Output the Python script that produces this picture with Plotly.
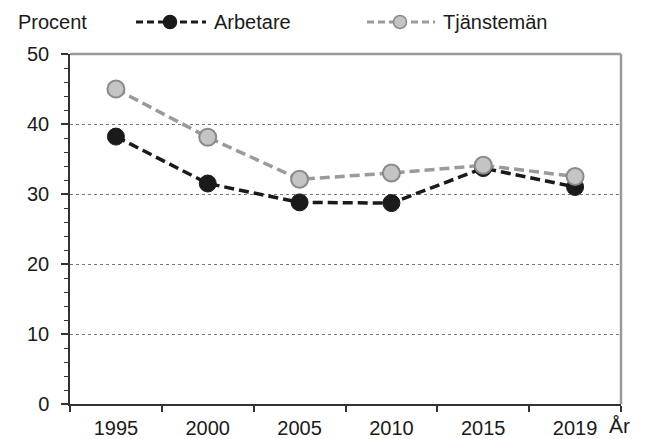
import plotly.graph_objects as go

years = ["1995", "2000", "2005", "2010", "2015", "2019"]
arbetare = [38.2, 31.5, 28.8, 28.7, 33.7, 31.0]
tjansteman = [45.0, 38.1, 32.1, 33.0, 34.1, 32.5]

FONT = "Liberation Sans, Arial, sans-serif"
W, H = 647, 439
OFF = 8  # page body margin
# plot area in screen pixels
SL, SR, ST, SB = 70, 621, 54, 404
ML, MT = SL - OFF, ST - OFF
MR, MB = W - (SR - OFF), H - (SB - OFF)
PW, PH = SR - SL, SB - ST

def px(x):
    return (x - SL) / PW

def py(y):
    return (SB - y) / PH

fig = go.Figure()
fig.add_trace(go.Scatter(
    x=years, y=arbetare, name="Arbetare", mode="lines+markers",
    line=dict(color="#1a1a1a", width=3.5, dash="10px,5px"),
    marker=dict(size=17, color="#1a1a1a", line=dict(color="#1a1a1a", width=1)),
    cliponaxis=False,
))
fig.add_trace(go.Scatter(
    x=years, y=tjansteman, name="Tjänstemän", mode="lines+markers",
    line=dict(color="#9a9a9a", width=3.5, dash="10px,5px"),
    marker=dict(size=17, color="#c4c4c4", line=dict(color="#8a8a8a", width=2)),
    cliponaxis=False,
))

shapes = [
    dict(type="line", xref="paper", yref="paper", x0=0, x1=1, y0=1, y1=1,
         line=dict(color="#9a9a9a", width=2.5)),
    dict(type="line", xref="paper", yref="paper", x0=1, x1=1, y0=0, y1=1,
         line=dict(color="#9a9a9a", width=2.5)),
]
annotations = [
    dict(text="Procent", xref="paper", yref="paper", x=px(16), y=py(22),
         xanchor="left", yanchor="middle", showarrow=False, font=dict(size=20)),
    dict(text="År", xref="paper", yref="paper", x=px(619), y=py(425),
         xanchor="center", yanchor="middle", showarrow=False, font=dict(size=21)),
]

# manual legend
legend_items = [
    ("Arbetare", 136, 206, 170, "#1a1a1a", "#1a1a1a", "#1a1a1a"),
    ("Tjänstemän", 367, 435, 400, "#9a9a9a", "#c4c4c4", "#8a8a8a"),
]
for name, x0, x1, cx, lc, fc, bc in legend_items:
    shapes.append(dict(type="line", xref="paper", yref="paper",
                       x0=px(x0), x1=px(x1), y0=py(22), y1=py(22),
                       line=dict(color=lc, width=3, dash="7px,4px")))
    shapes.append(dict(type="circle", xref="paper", yref="paper",
                       xsizemode="pixel", ysizemode="pixel",
                       xanchor=px(cx), yanchor=py(22),
                       x0=-6.5, x1=6.5, y0=-6.5, y1=6.5,
                       fillcolor=fc, line=dict(color=bc, width=1.5)))
    annotations.append(dict(text=name, xref="paper", yref="paper",
                            x=px(x1 + 6), y=py(22), xanchor="left", yanchor="middle",
                            showarrow=False, font=dict(size=20)))

fig.update_layout(
    width=W, height=H,
    margin=dict(l=ML, r=MR, t=MT, b=MB),
    paper_bgcolor="white", plot_bgcolor="white",
    font=dict(family=FONT, size=20, color="#1a1a1a"),
    showlegend=False,
    xaxis=dict(
        type="category", range=[-0.5, 5.5], tickson="boundaries",
        ticks="outside", ticklen=6, tickcolor="#333", tickwidth=1.5,
        showline=True, linecolor="#333", linewidth=1.5, showgrid=False,
        tickfont=dict(size=20), zeroline=False, automargin=False,
        ticklabelstandoff=5,
    ),
    yaxis=dict(
        range=[0, 50], tickvals=[0, 10, 20, 30, 40, 50],
        ticks="outside", ticklen=7, tickcolor="#333", tickwidth=1.5,
        minor=dict(ticks="outside", ticklen=4, dtick=2, tickcolor="#333", tickwidth=1, showgrid=False),
        showline=True, linecolor="#333", linewidth=1.5,
        showgrid=True, gridcolor="#777", griddash="dot", gridwidth=1,
        zeroline=False, tickfont=dict(size=20), automargin=False,
        ticklabelstandoff=8,
    ),
    shapes=shapes,
    annotations=annotations,
)

fig.write_html("out.html")
